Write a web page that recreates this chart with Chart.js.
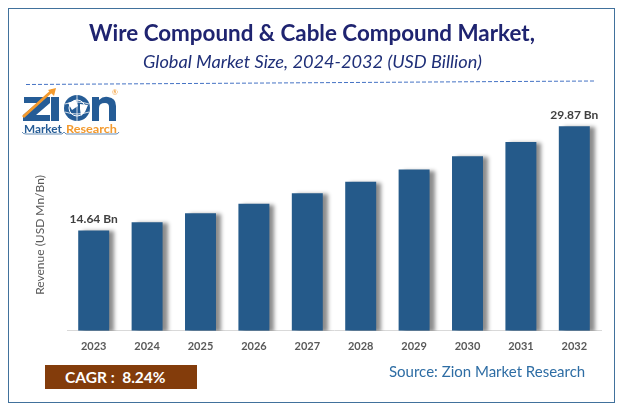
<!DOCTYPE html>
<html lang="en">
<head>
    <meta charset="UTF-8">
    <title>Wire Compound & Cable Compound Market</title>
    <script src="https://cdn.jsdelivr.net/npm/chart.js"></script>
    <style>
        html, body { margin: 0; padding: 0; background: #fff; }
        #wrap { position: relative; width: 622px; height: 413px; overflow: hidden; font-family: Lato, sans-serif; }
        #frame { position: absolute; left: 8px; top: 8px; width: 605px; height: 393px; border: 1.5px solid #41719c; }
        #deco { position: absolute; left: 0; top: 0; }
        canvas { position: absolute; left: 0; top: 0; }
        .txt { position: absolute; white-space: nowrap; }
        #title { left: 0; width: 624px; top: 19px; text-align: center; font-size: 22.4px; font-weight: 700; color: #1f2470; }
        #subtitle { left: 0; width: 625px; top: 50px; text-align: center; font-size: 18.2px; font-style: italic; color: #1f2f78; }
        #cagr { left: 45px; top: 365px; width: 152px; height: 24px; background: #833c0b; color: #fff; font-size: 15.5px; font-weight: 700; line-height: 24px; text-indent: 20px; }
        #source { left: 389px; top: 362px; font-size: 15px; color: #2e6da4; }
    </style>
</head>
<body>
<div id="wrap">
    <div id="frame"></div>
    <canvas id="sizeChart" width="622" height="413"></canvas>
    <svg id="deco" width="622" height="413">
        <line x1="26" y1="84.5" x2="594" y2="81" stroke="#4472c4" stroke-width="1" stroke-dasharray="4 2"/>
        <polygon points="24,97 50,97 50,103 36,115 50,115 50,121 23,121 23,115 37,103 24,103" fill="#255c96"/>
        <rect x="51" y="97" width="8" height="24" fill="#255c96"/>
        <path d="M23 117 L44 98 L53 90" stroke="#f39a2e" stroke-width="3" fill="none"/>
        <polygon points="56,88 48,90 54,96" fill="#f39a2e"/>
        <circle cx="77" cy="108" r="13" fill="#255c96"/>
        <circle cx="77" cy="108" r="8" fill="none" stroke="#fff" stroke-width="1"/>
        <path d="M65 104 Q77 100 89 104 M65 112 Q77 116 89 112 M77 95 V121" stroke="#fff" stroke-width="0.8" fill="none"/>
        <path d="M68 103 L76 100 L78 106 L72 110 Z M80 104 L88 105 L85 112 L81 116 L80 109 Z" fill="#fff"/>
        <path d="M92 121 V97 H99 V100 Q103 96 108 97 Q116 98 116 106 V121 H109 V107 Q109 103 105 103 Q99 103 99 108 V121 Z" fill="#255c96"/>
        <text x="24" y="132.5" font-family="Lato" font-weight="700" font-size="12" fill="#255c96" textLength="38" lengthAdjust="spacingAndGlyphs">Market</text>
        <text x="66" y="132.5" font-family="Lato" font-weight="700" font-size="12" fill="#f39a2e" textLength="51" lengthAdjust="spacingAndGlyphs">Research</text>
        <path d="M22 132 Q23 134 26 134 H62 L64 132 L66 134 H116 Q118 134 119 132" stroke="#255c96" stroke-width="0.7" fill="none"/>
        <text x="112" y="95" font-family="Lato" font-size="7" fill="#f39a2e">®</text>
    </svg>
    <div id="title" class="txt">Wire Compound &amp; Cable Compound Market,</div>
    <div id="subtitle" class="txt">Global Market Size, 2024-2032 (USD Billion)</div>
    <div id="cagr" class="txt">CAGR :&nbsp; 8.24%</div>
    <div id="source" class="txt">Source: Zion Market Research</div>
</div>
<script>
    const years = ['2023', '2024', '2025', '2026', '2027', '2028', '2029', '2030', '2031', '2032'];
    const revenue = [14.64, 15.85, 17.15, 18.56, 20.09, 21.74, 23.53, 25.47, 27.57, 29.87];
    const labelled = ['14.64 Bn', '', '', '', '', '', '', '', '', '29.87 Bn'];
    const yAxisTitle = 'Revenue (USD Mn/Bn)';

    // soft shadow to the right of each bar, as in the original
    const barShadow = {
        id: 'barShadow',
        beforeDatasetDraw(chart) {
            const ctx = chart.ctx;
            ctx.save();
            ctx.shadowColor = 'rgba(0,0,0,0.45)';
            ctx.shadowBlur = 4;
            ctx.shadowOffsetX = 5;
            ctx.shadowOffsetY = 1;
        },
        afterDatasetDraw(chart) {
            chart.ctx.restore();
        }
    };

    const barLabels = {
        id: 'barLabels',
        afterDatasetsDraw(chart) {
            const ctx = chart.ctx;
            const bars = chart.getDatasetMeta(0).data;
            ctx.save();
            ctx.font = 'bold 12px Lato';
            ctx.fillStyle = '#404040';
            ctx.textAlign = 'center';
            ctx.textBaseline = 'bottom';
            bars.forEach((bar, i) => {
                if (labelled[i]) ctx.fillText(labelled[i], bar.x, bar.y - 5);
            });
            // axis title sits low in the original, not centred on the plot
            ctx.font = '12px Lato';
            ctx.fillStyle = '#595959';
            ctx.translate(40, 235);
            ctx.rotate(-Math.PI / 2);
            ctx.textBaseline = 'middle';
            ctx.fillText(yAxisTitle, 0, 0);
            ctx.restore();
        }
    };

    new Chart(document.getElementById('sizeChart').getContext('2d'), {
        type: 'bar',
        data: {
            labels: years,
            datasets: [{
                data: revenue,
                backgroundColor: '#255a8a',
                barPercentage: 0.58,
                categoryPercentage: 1
            }]
        },
        plugins: [barShadow, barLabels],
        options: {
            responsive: false,
            animation: false,
            layout: { padding: { left: 32, right: 21, top: 91, bottom: 59 } },
            plugins: { legend: { display: false }, tooltip: { enabled: false } },
            scales: {
                x: {
                    grid: { display: false },
                    border: { color: '#d9d9d9', width: 1 },
                    ticks: { color: '#595959', font: { family: 'Lato', size: 11, weight: 'bold' }, padding: 1, maxRotation: 0 }
                },
                y: {
                    min: 0,
                    max: 35,
                    grid: { display: false },
                    border: { display: false },
                    ticks: { display: false },
                    afterFit(scale) { scale.width = 35; }
                }
            }
        }
    });
</script>
</body>
</html>
